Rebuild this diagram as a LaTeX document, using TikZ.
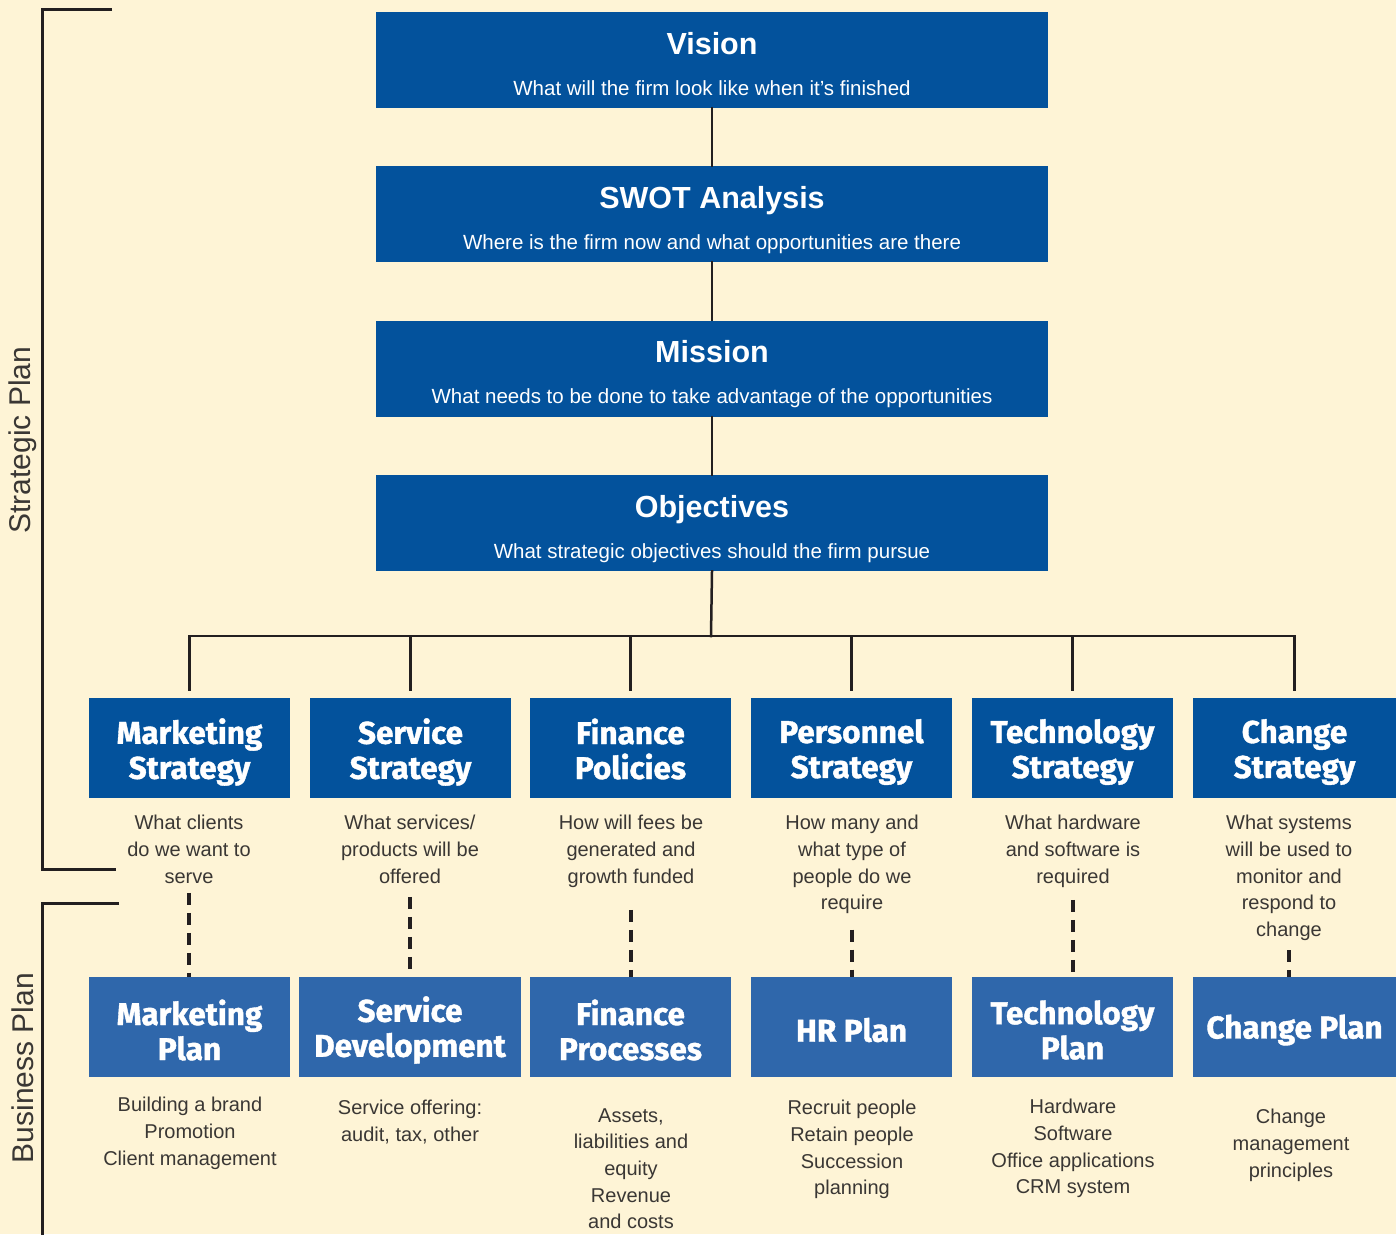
\documentclass[tikz,border=0pt]{standalone}
\usepackage{fontspec}
\setmainfont{Liberation Sans}
\newfontfamily\headfont[BoldFeatures={FakeBold=1.2}]{Fira Sans}

\definecolor{bgcream}{RGB}{254,244,214}
\definecolor{darkblue}{RGB}{3,82,156}
\definecolor{midblue}{RGB}{47,103,171}
\definecolor{inkgray}{RGB}{58,55,52}
\definecolor{linegray}{RGB}{35,31,32}

\tikzset{every picture/.style={line width=0.75pt}}
\tikzset{
  topbox/.style={fill=darkblue, minimum width=672pt, minimum height=96pt, inner sep=0pt},
  toptitle/.style={anchor=base, inner sep=0pt, text=white, font=\bfseries\fontsize{30.5}{36}\selectfont},
  topsub/.style={anchor=base, inner sep=0pt, text=white, font=\fontsize{20.5}{24}\selectfont},
  stratbox/.style={fill=darkblue, minimum width=201pt, minimum height=100pt, inner sep=0pt},
  planbox/.style={stratbox, fill=midblue},
  boxtitle/.style={inner sep=0pt, text=white, align=center, font=\headfont\bfseries\fontsize{31.5}{35}\selectfont},
  desc/.style={anchor=north, inner sep=0pt, align=center, text=inkgray, font=\fontsize{20}{26.7}\selectfont},
  tree/.style={draw=linegray, line width=2.5pt, line cap=rect},
  dashlink/.style={draw=linegray, line width=4pt, dash pattern=on 12pt off 8pt},
  bracket/.style={draw=linegray, line width=3pt},
  sidelabel/.style={rotate=90, inner sep=0pt, text=inkgray, font=\fontsize{30}{36}\selectfont}
}

\begin{document}
\begin{tikzpicture}[x=1pt,y=1pt,yscale=-1,xscale=1]
\useasboundingbox [fill=bgcream] (0,0) rectangle (1396,1234);

%Shape: Rectangle
\node [topbox] (vision) at (712,60) {};
%Shape: Rectangle
\node [topbox] (swot) at (712,214) {};
%Shape: Rectangle
\node [topbox] (mission) at (712,368.5) {};
%Shape: Rectangle
\node [topbox] (objectives) at (712,523) {};

% Text Node
\node [toptitle] (visiontitle) at (712,54) {Vision};
\node [topsub] (visionsub) at (712,95.5) {What will the firm look like when it’s finished};
% Text Node
\node [toptitle] (swottitle) at (712,208) {SWOT Analysis};
\node [topsub] (swotsub) at (712,249.5) {Where is the firm now and what opportunities are there};
% Text Node
\node [toptitle] (missiontitle) at (712,362) {Mission};
\node [topsub] (missionsub) at (712,403.5) {What needs to be done to take advantage of the opportunities};
% Text Node
\node [toptitle] (objectivestitle) at (712,517) {Objectives};
\node [topsub] (objectivessub) at (712,558.5) {What strategic objectives should the firm pursue};

%Straight Lines
\draw [tree] (vision.south) -- (swot.north);
\draw [tree] (swot.south) -- (mission.north);
\draw [tree] (mission.south) -- (objectives.north);

%Shape: Rectangle
\node [stratbox] (ms) at (189.5,748) {};
\node [stratbox] (ss) at (410.5,748) {};
\node [stratbox] (fs) at (630.5,748) {};
\node [stratbox] (ps) at (851.5,748) {};
\node [stratbox] (ts) at (1072.5,748) {};
\node [stratbox, minimum width=203pt] (cs) at (1294.5,748) {};

% Text Node
\node [boxtitle] (mstitle) at ([yshift=4pt]ms.center) {Marketing\\Strategy};
\node [boxtitle] (sstitle) at ([yshift=4pt]ss.center) {Service\\Strategy};
\node [boxtitle] (fstitle) at ([yshift=1pt]fs.center) {Finance\\Policies};
\node [boxtitle] (pstitle) at ([yshift=4pt]ps.center) {Personnel\\Strategy};
\node [boxtitle] (tstitle) at ([yshift=4pt]ts.center) {Technology\\Strategy};
\node [boxtitle] (cstitle) at ([yshift=4pt]cs.center) {Change\\Strategy};

%Straight Lines
\coordinate (bus) at (711,636);
\draw [tree] (objectives.south) -- (bus);
\draw [tree] (ms.north |- bus) -- (cs.north |- bus);
\draw [tree, shorten >=8pt] (ms.north |- bus) -- (ms.north);
\draw [tree, shorten >=8pt] (ss.north |- bus) -- (ss.north);
\draw [tree, shorten >=8pt] (fs.north |- bus) -- (fs.north);
\draw [tree, shorten >=8pt] (ps.north |- bus) -- (ps.north);
\draw [tree, shorten >=8pt] (ts.north |- bus) -- (ts.north);
\draw [tree, shorten >=8pt] (cs.north |- bus) -- (cs.north);

% Text Node
\node [desc] (msd) at (189,815) {What clients\\do we want to\\serve};
\node [desc] (ssd) at (410,815) {What services/\\products will be\\offered};
\node [desc] (fsd) at (631,815) {How will fees be\\generated and\\growth funded};
\node [desc] (psd) at (852,815) {How many and\\what type of\\people do we\\require};
\node [desc] (tsd) at (1073,815) {What hardware\\and software is\\required};
\node [desc] (csd) at (1289,815) {What systems\\will be used to\\monitor and\\respond to\\change};

%Shape: Rectangle
\node [planbox] (mp) at (189.5,1027) {};
\node [planbox, minimum width=222pt] (sd) at (410,1027) {};
\node [planbox] (fp) at (630.5,1027) {};
\node [planbox] (hr) at (851.5,1027) {};
\node [planbox] (tp) at (1072.5,1027) {};
\node [planbox, minimum width=203pt] (cp) at (1294.5,1027) {};

% Text Node
\node [boxtitle] (mptitle) at ([yshift=3pt]mp.center) {Marketing\\Plan};
\node [boxtitle] (sdtitle) at ([yshift=3pt]sd.center) {Service\\Development};
\node [boxtitle] (fptitle) at ([yshift=3pt]fp.center) {Finance\\Processes};
\node [boxtitle] (hrtitle) at ([yshift=3pt]hr.center) {HR Plan};
\node [boxtitle] (tptitle) at ([yshift=3pt]tp.center) {Technology\\Plan};
\node [boxtitle] (cptitle) at ([yshift=3pt]cp.center) {Change Plan};

%Dashed Lines
\draw [dashlink, shorten <=9pt] (msd.south) -- (msd.south |- mp.north);
\draw [dashlink, shorten <=13pt] (ssd.south) -- (ssd.south |- sd.north);
\draw [dashlink, shorten <=22pt] (fsd.south) -- (fsd.south |- fp.north);
\draw [dashlink, shorten <=15pt] (psd.south) -- (psd.south |- hr.north);
\draw [dashlink, shorten <=12pt] (tsd.south) -- (tsd.south |- tp.north);
\draw [dashlink, shorten <=9pt] (csd.south) -- (csd.south |- cp.north);

% Text Node
\node [desc] (mpd) at (190,1097) {Building a brand\\Promotion\\Client management};
\node [desc] (sdd) at (410,1100) {Service offering:\\audit, tax, other};
\node [desc] (fpd) at (631,1108) {Assets,\\liabilities and\\equity\\Revenue\\and costs};
\node [desc] (hrd) at (852,1100) {Recruit people\\Retain people\\Succession\\planning};
\node [desc] (tpd) at (1073,1099) {Hardware\\Software\\Office applications\\CRM system};
\node [desc] (cpd) at (1291,1109) {Change\\management\\principles};

%Straight Lines
\draw [bracket] (112,9) -- (42,9) -- (42,869) -- (116,869);
\draw [bracket] (119,903) -- (42,903) -- (42,1236);

% Text Node
\node [sidelabel] (strategiclabel) at (23,440) {Strategic Plan};
\node [sidelabel] (businesslabel) at (23,1068) {Business Plan};

\end{tikzpicture}
\end{document}
